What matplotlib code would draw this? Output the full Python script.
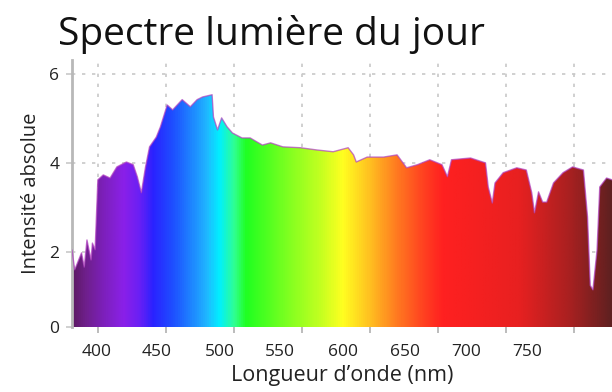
import numpy as np
import matplotlib.pyplot as plt
from matplotlib.colors import LinearSegmentedColormap

plt.rcParams['font.family'] = ['Open Sans', 'DejaVu Sans']

# spectre (nm, intensité)
wavelength = [381, 383, 388, 390, 392, 395, 396, 398, 400, 404, 409, 414, 421, 426,
              429, 432, 435, 438, 443, 446, 451, 455, 462, 468, 473, 477, 484, 485,
              488, 491, 495, 499, 506, 512, 517, 521, 527, 536, 549, 561, 573, 584,
              588, 590, 598, 610, 620, 627, 635, 644, 653, 657, 660, 674, 685, 687,
              690, 692, 698, 708, 715, 719, 721, 724, 727, 730, 735, 742, 749, 757,
              760, 762, 764, 767, 769, 774, 778]
intensity = [2.04, 1.60, 1.98, 1.66, 2.27, 1.82, 2.20, 2.05, 3.62, 3.73, 3.66, 3.91, 4.02, 3.96,
             3.69, 3.33, 3.90, 4.36, 4.58, 4.81, 5.30, 5.19, 5.42, 5.26, 5.42, 5.48, 5.53, 5.03,
             4.74, 5.01, 4.81, 4.67, 4.56, 4.56, 4.47, 4.40, 4.45, 4.36, 4.34, 4.29, 4.25, 4.34,
             4.18, 4.02, 4.13, 4.13, 4.18, 3.89, 3.96, 4.07, 3.96, 3.69, 4.07, 4.11, 4.00, 3.46,
             3.10, 3.55, 3.78, 3.89, 3.84, 3.33, 2.88, 3.35, 3.12, 3.12, 3.55, 3.78, 3.91, 3.84,
             2.79, 1.25, 1.15, 2.04, 3.46, 3.66, 3.62]

# couleurs du dégradé
color_nm = [381, 390, 405, 418, 430, 440, 455, 470, 480, 489, 500, 509, 540, 565, 580,
            600, 620, 640, 654, 710, 748, 778]
color_hex = ['#5e1a66', '#6e1f8a', '#7e20c0', '#8a20e8', '#6a1ff5', '#2a22ff', '#1e50ff',
             '#1e8cff', '#20b8ff', '#00f0ff', '#30ff90', '#20ff20', '#80ff20', '#c8ff20',
             '#ffff20', '#ffc020', '#ff7a20', '#ff4020', '#ff2020', '#e82020', '#a82020',
             '#602020']

tick_nm = [400, 450, 500, 550, 600, 650, 700, 750]
tick_labels = ['400', '450', '500', '550', '600', '650', '700', '750']
label_nm = [399, 443.5, 490, 534, 580, 626, 671, 716]

xmin, xmax = 381, 778
ymin, ymax = 0.315, 6.31

fig = plt.figure(figsize=(6.12, 3.92), dpi=100)
ax = fig.add_axes([72/612, 1-327/392, 1-72/612, 267/392])

pos = [(c - xmin) / (xmax - xmin) for c in color_nm]
cmap = LinearSegmentedColormap.from_list('spectre', list(zip(pos, color_hex)))

grad = np.linspace(0, 1, 800).reshape(1, -1)
im = ax.imshow(grad, cmap=cmap, aspect='auto', extent=[xmin, xmax, ymin, ymax],
               origin='lower', zorder=2)
poly = ax.fill_between(wavelength, ymin, intensity, color='none', lw=0)
clip = poly.get_paths()[0]
im.set_clip_path(clip, transform=ax.transData)
ax.plot(wavelength, intensity, color='#b040c0', lw=1.0, alpha=0.7, zorder=3)

ax.set_xlim(xmin, xmax)
ax.set_ylim(ymin, ymax)

# grille pointillée
ax.set_xticks(tick_nm, minor=True)
ax.set_xticks(label_nm, tick_labels)
ax.set_yticks([ymin, 2, 4, 6], ['0', '2', '4', '6'])
ax.grid(True, which='minor', axis='x', color='#c8c8c8', ls=(0, (2, 4)), lw=1.2, zorder=0)
ax.grid(True, which='major', axis='y', color='#c8c8c8', ls=(0, (2, 4)), lw=1.2, zorder=0)

ax.tick_params(axis='x', which='major', length=0, pad=12, labelsize=12.5, labelcolor='#222222')
ax.tick_params(axis='x', which='minor', length=4, width=1.2, color='#b0b0b0')
ax.tick_params(axis='y', length=4, width=1.2, color='#c8c8c8', pad=5, labelsize=12.5,
               labelcolor='#222222')

for s in ['top', 'right', 'bottom']:
    ax.spines[s].set_visible(False)
ax.spines['left'].set_color('#b8b8b8')
ax.spines['left'].set_linewidth(2)

ax.set_xlabel("Longueur d\u2019onde (nm)", fontsize=15.5, color='#222222', labelpad=4)
ax.set_ylabel('Intensité absolue', fontsize=14.5, color='#222222', labelpad=6)

fig.text(58/612, 1-45/392, 'Spectre lumière du jour', fontsize=28, color='#111111',
         ha='left', va='baseline')

fig.savefig('out.png', dpi=100)
